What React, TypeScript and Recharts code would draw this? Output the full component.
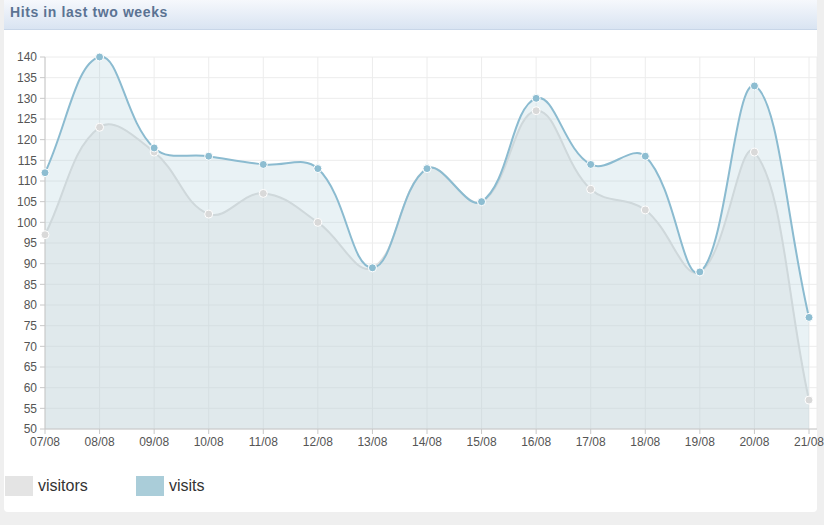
import React from 'react';
import { AreaChart, Area, XAxis, YAxis, CartesianGrid } from 'recharts';

const dates = ['07/08', '08/08', '09/08', '10/08', '11/08', '12/08', '13/08', '14/08', '15/08', '16/08', '17/08', '18/08', '19/08', '20/08', '21/08'];
const visitors = [97, 123, 117, 102, 107, 100, 89, 113, 105, 127, 108, 103, 88, 117, 57];
const visits = [112, 140, 118, 116, 114, 113, 89, 113, 105, 130, 114, 116, 88, 133, 77];
const yTicks = [50, 55, 60, 65, 70, 75, 80, 85, 90, 95, 100, 105, 110, 115, 120, 125, 130, 135, 140];
const seriesNames = ['visitors', 'visits'];

const data = dates.map((d, i) => ({ date: d, visitors: visitors[i], visits: visits[i] }));

const legendColors = ['#e4e4e4', '#aacdd9'];

// Chart.js v1 style bezier spline curve factory (tension 0.4)
const splineCurve = (tension: number) => (context: any) => {
  let pts: number[][] = [];
  let line: number = NaN;
  const draw = () => {
    const n = pts.length;
    if (!n) return;
    if (line) context.lineTo(pts[0][0], pts[0][1]);
    else context.moveTo(pts[0][0], pts[0][1]);
    if (n === 1) return;
    const inner: number[][] = [];
    const outer: number[][] = [];
    for (let i = 0; i < n; i++) {
      const p0 = pts[Math.max(0, i - 1)];
      const p1 = pts[i];
      const p2 = pts[Math.min(n - 1, i + 1)];
      const d01 = Math.hypot(p1[0] - p0[0], p1[1] - p0[1]);
      const d12 = Math.hypot(p2[0] - p1[0], p2[1] - p1[1]);
      const s = d01 + d12;
      const fa = s ? (tension * d01) / s : 0;
      const fb = s ? (tension * d12) / s : 0;
      inner.push([p1[0] - fa * (p2[0] - p0[0]), p1[1] - fa * (p2[1] - p0[1])]);
      outer.push([p1[0] + fb * (p2[0] - p0[0]), p1[1] + fb * (p2[1] - p0[1])]);
    }
    for (let i = 1; i < n; i++) {
      context.bezierCurveTo(outer[i - 1][0], outer[i - 1][1], inner[i][0], inner[i][1], pts[i][0], pts[i][1]);
    }
  };
  return {
    areaStart() { line = 0; },
    areaEnd() { line = NaN; },
    lineStart() { pts = []; },
    lineEnd() {
      draw();
      if (line || (line !== 0 && pts.length === 1)) context.closePath();
      line = 1 - line;
    },
    point(x: number, y: number) { pts.push([+x, +y]); },
  };
};

const curve = splineCurve(0.4) as any;

const tickStyle = { fill: '#555', fontSize: 12, fontFamily: '"Liberation Sans", Arial, sans-serif' };

export default function App() {
  return (
    <div style={{ position: 'absolute', left: 0, top: 0, width: 824, height: 525, background: '#efefef', overflow: 'hidden', fontFamily: '"Liberation Sans", Arial, sans-serif' }}>
      <div style={{ position: 'absolute', left: 4, top: -4, width: 813, height: 516, background: '#fff', borderRadius: 4 }} />
      <div style={{ position: 'absolute', left: 4, top: 0, width: 813, height: 29, background: 'linear-gradient(#f6f8fc, #d9e4f2)', borderBottom: '1px solid #c8d6e8' }}>
        <div style={{ position: 'absolute', left: 6, top: 4, fontSize: 14, letterSpacing: 0.6, fontWeight: 'bold', color: '#5b7393' }}>Hits in last two weeks</div>
      </div>
      <div style={{ position: 'absolute', left: 0, top: 0 }}>
        <AreaChart width={824} height={460} data={data} margin={{ top: 57, right: 7, left: 0, bottom: 0 }}>
          <CartesianGrid stroke="#ececec" strokeWidth={1} />
          <XAxis
            dataKey="date"
            height={31}
            padding={{ left: 0, right: 8 }}
            interval={0}
            tick={tickStyle}
            tickSize={5}
            tickMargin={3}
            axisLine={{ stroke: '#c8c8c8' }}
            tickLine={{ stroke: '#c8c8c8' }}
          />
          <YAxis
            width={45}
            domain={[50, 140]}
            ticks={yTicks}
            interval={0}
            tick={tickStyle}
            tickSize={5}
            tickMargin={3}
            axisLine={{ stroke: '#c8c8c8' }}
            tickLine={{ stroke: '#c8c8c8' }}
          />
          <Area
            dataKey="visitors"
            name={seriesNames[0]}
            type={curve}
            stroke="#dcdcdc"
            strokeWidth={2}
            fill="#d8d8d8"
            fillOpacity={0.3}
            dot={{ r: 4, fill: '#d9d9d9', stroke: '#fff', strokeWidth: 1, fillOpacity: 1 }}
            activeDot={false}
            isAnimationActive={false}
          />
          <Area
            dataKey="visits"
            name={seriesNames[1]}
            type={curve}
            stroke="#8bbbd0"
            strokeWidth={2}
            fill="#a9cbd8"
            fillOpacity={0.25}
            dot={{ r: 4, fill: '#8dbdd1', stroke: '#fff', strokeWidth: 1, fillOpacity: 1 }}
            activeDot={false}
            isAnimationActive={false}
          />
        </AreaChart>
      </div>
      {seriesNames.map((name, i) => (
        <div key={name} style={{ position: 'absolute', left: 5 + i * 131, top: 476, height: 20, display: 'flex', alignItems: 'center' }}>
          <div style={{ width: 28, height: 20, background: legendColors[i] }} />
          <span style={{ marginLeft: 5, fontSize: 16, color: '#333' }}>{name}</span>
        </div>
      ))}
    </div>
  );
}
